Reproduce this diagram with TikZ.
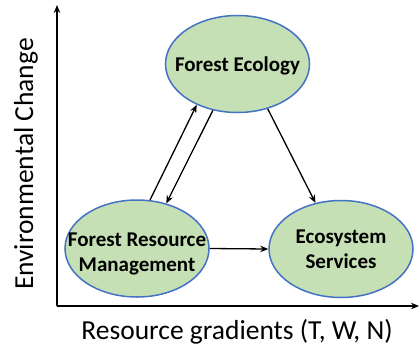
\documentclass[tikz,border=0pt]{standalone}
\usepackage{fontspec}
\setmainfont{Carlito}
\usepackage{xcolor}
\usetikzlibrary{arrows, arrows.meta}
\usetikzlibrary{shapes.geometric}
\usetikzlibrary{positioning}
\definecolor{leafgreen}{HTML}{C5E0B4}
\definecolor{rimblue}{HTML}{4472C4}
\tikzset{
	topic/.style={ellipse, draw=rimblue, line width=1.5pt, fill=leafgreen,
		minimum width=144pt, minimum height=97pt, inner sep=0pt},
	topictext/.style={align=center, inner sep=0pt, font=\fontsize{21}{25}\selectfont\bfseries},
	link/.style={->, line width=1.3pt, >={Stealth[length=8pt,width=6.5pt]}},
	axislabel/.style={font=\fontsize{27.5}{30}\selectfont}
}
\begin{document}
\begin{tikzpicture}[x=1pt,y=-1pt]
				\useasboundingbox (0,0) rectangle (420,349);
				% draw axes
				\coordinate (origin) at (57,306);
				\coordinate (ytop) at (57,5);
				\coordinate (xend) at (419,306);
				\draw[link] (origin) -- (ytop);
				\draw[link] (origin) -- (xend);
				\node[axislabel, rotate=90] (ylab) at (26,164) {Environmental Change};
				\node[axislabel] (xlab) at (237,332) {Resource gradients (T, W, N)};
				
				% draw topics
				\node[topic, label={[topictext, yshift=-2pt]center:Forest Ecology}] (ecology) at (237.5,64) {};
				\node[topic, label={[topictext, yshift=-5pt]center:Forest Resource\\Management}] (manage) at (137,248.5) {};
				\node[topic, label={[topictext]center:Ecosystem\\Services}] (services) at (341,249) {};
				
				% add arrows
				\draw[link] (manage.75) -- (ecology.225);
				\draw[link] (ecology.242) -- (manage.57);
				\draw[link] (ecology.304) -- (services.119);
				\draw[link] (manage.east) -- (services.west);
			\end{tikzpicture}
\end{document}
